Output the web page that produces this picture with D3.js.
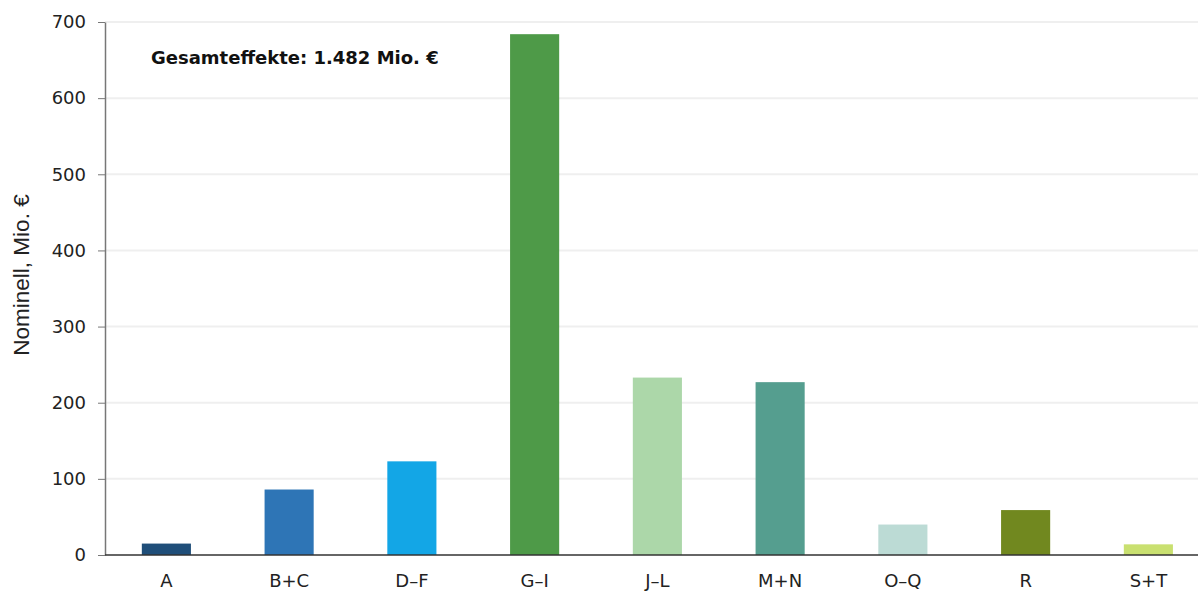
<!DOCTYPE html>
<html>
<head>
<meta charset="utf-8">
<script src="https://cdn.jsdelivr.net/npm/d3@7"></script>
<style>
  body { margin: 0; background: #fff; }
  svg { display: block; }
</style>
</head>
<body>
<svg width="1198" height="592"></svg>
<script>
const categories = ["A", "B+C", "D–F", "G–I", "J–L", "M+N", "O–Q", "R", "S+T"];
const values = [15, 86, 123, 684, 233, 227, 40, 59, 14];
const colors = ["#1f4e79", "#2e75b6", "#13a6e6", "#4e9a48", "#acd7a9", "#559e8f", "#bcdbd5", "#71881f", "#c9e070"];
const yTicks = [0, 100, 200, 300, 400, 500, 600, 700];
const totalLabel = "Gesamteffekte: 1.482 Mio. €";
const yTitle = "Nominell, Mio. €";

const svg = d3.select("svg");
const width = +svg.attr("width");
const height = +svg.attr("height");
const margin = { top: 22, right: 0, bottom: 37, left: 105 };
const tickFont = "'DejaVu Sans', sans-serif";

const x = d3.scaleBand()
  .domain(categories)
  .range([margin.left, margin.left + 9 * 122.75])
  .paddingInner(0.6)
  .paddingOuter(0.3);

const y = d3.scaleLinear()
  .domain([0, 700])
  .range([height - margin.bottom, margin.top]);

// gridlines
svg.append("g")
  .selectAll("line")
  .data(yTicks.filter(d => d > 0))
  .join("line")
  .attr("x1", margin.left)
  .attr("x2", width)
  .attr("y1", d => y(d))
  .attr("y2", d => y(d))
  .attr("stroke", "#efefef")
  .attr("stroke-width", 2);

// bars
svg.append("g")
  .selectAll("rect")
  .data(values)
  .join("rect")
  .attr("x", (d, i) => x(categories[i]))
  .attr("width", x.bandwidth())
  .attr("y", d => y(d))
  .attr("height", d => y(0) - y(d))
  .attr("fill", (d, i) => colors[i]);

// y axis
const yAxis = svg.append("g")
  .attr("transform", `translate(${margin.left},0)`)
  .call(d3.axisLeft(y).tickValues(yTicks).tickSize(7).tickPadding(12).tickSizeOuter(0));
yAxis.select(".domain").attr("stroke", "#777").attr("stroke-width", 1.5);
yAxis.selectAll(".tick line").attr("stroke", "#777");
yAxis.selectAll("text")
  .attr("font-family", tickFont)
  .attr("font-size", 18)
  .attr("fill", "#222");

// x axis
const xAxis = svg.append("g")
  .attr("transform", `translate(0,${y(0)})`)
  .call(d3.axisBottom(x).tickSize(0).tickPadding(19));
xAxis.select(".domain").attr("stroke", "#333").attr("stroke-width", 1.5)
  .attr("d", `M${margin.left},0H${width}`);
xAxis.selectAll("text")
  .attr("font-family", tickFont)
  .attr("font-size", 18)
  .attr("fill", "#222");

// y title
svg.append("text")
  .attr("transform", "translate(29,275) rotate(-90)")
  .attr("text-anchor", "middle")
  .attr("font-family", "'Liberation Sans', Arial, sans-serif")
  .attr("font-size", 22.5)
  .attr("fill", "#222")
  .text(yTitle);

// total annotation
svg.append("text")
  .attr("x", 151)
  .attr("y", 64)
  .attr("font-family", tickFont)
  .attr("font-weight", "bold")
  .attr("font-size", 18)
  .attr("fill", "#111")
  .text(totalLabel);
</script>
</body>
</html>
